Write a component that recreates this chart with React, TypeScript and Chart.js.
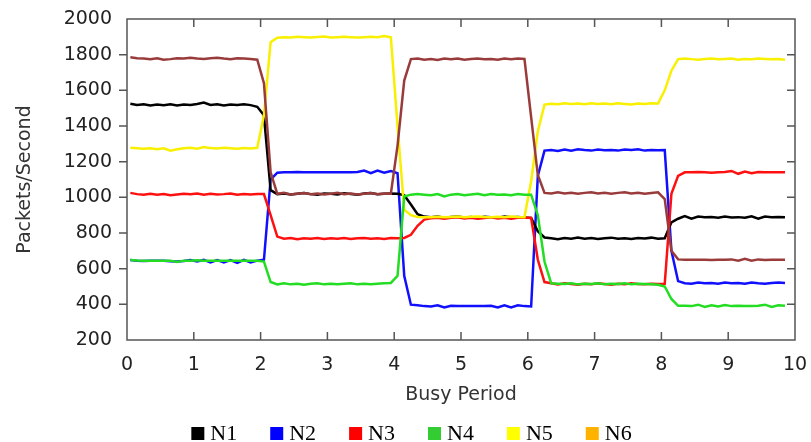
import React, { useEffect, useRef } from 'react';
import { Chart, registerables } from 'chart.js';

Chart.register(...registerables);

// Busy period sample positions (x axis)
const busyPeriod: number[] = Array.from({ length: 99 }, (_, i) => Math.round((0.05 + i * 0.1) * 100) / 100);

const seriesLabels = ['N1', 'N2', 'N3', 'N4', 'N5', 'N6'];

const n1 = [
  1525, 1518, 1522, 1515, 1520, 1517, 1522, 1515, 1520, 1518, 1523, 1532, 1518, 1522, 1515, 1520, 1518, 1522, 1517, 1508,
  1460, 1040, 1018,
  1022, 1016, 1020, 1024, 1018, 1015, 1022, 1020, 1016, 1023, 1019, 1015, 1021, 1024, 1018, 1020, 1022,
  1020, 1012, 960, 905, 892,
  888, 892, 885, 890, 893, 887, 889, 884, 891, 889, 886, 892, 888, 890, 887,
  885, 810, 775, 770,
  765, 772, 768, 774, 768, 772, 766, 771, 774, 768, 770, 766, 772, 769, 774, 768,
  770, 860, 880,
  895, 880, 892, 888, 890, 886, 893, 887, 889, 886, 894, 880, 892, 888, 890, 888,
];

const n2 = [
  648, 645, 643, 644, 645, 645, 642, 640, 643, 648, 640, 650, 635, 648, 635, 648, 632, 650, 635, 645,
  650, 1100, 1138,
  1140, 1140, 1142, 1140, 1140, 1140, 1141, 1140, 1140, 1140, 1140, 1142, 1150, 1135, 1150, 1138, 1148,
  1135, 560, 398, 395, 390,
  388, 395, 382, 392, 390, 390, 390, 390, 390, 392, 382, 395, 383, 395, 390,
  388, 1120, 1262, 1265,
  1260, 1268, 1262, 1270, 1265, 1262, 1268, 1264, 1266, 1262, 1268, 1265, 1270, 1262, 1266, 1264,
  1265, 700, 530,
  518, 515, 522, 518, 520, 516, 522, 518, 520, 516, 522, 518, 515, 520, 522, 520,
];

const n3 = [
  1025, 1018, 1015, 1020, 1014, 1018, 1012, 1016, 1020, 1018, 1022, 1015, 1020, 1016, 1018, 1022, 1015, 1018, 1016, 1018,
  1018, 900, 780,
  768, 772, 765, 770, 768, 772, 766, 770, 768, 772, 766, 770, 772, 768, 770, 766, 772,
  770, 772, 790, 840, 875,
  882, 886, 880, 885, 888, 882, 886, 880, 884, 888, 882, 886, 880, 885, 887,
  884, 650, 525, 518,
  512, 518, 514, 510, 516, 512, 518, 514, 510, 516, 512, 518, 514, 512, 516, 514,
  515, 1020, 1120,
  1140, 1140, 1142, 1140, 1138, 1140, 1142, 1148, 1132, 1145, 1135, 1142, 1140, 1140, 1140, 1140,
];

const n4 = [
  648, 646, 645, 645, 645, 645, 645, 638, 645, 645, 647, 645, 645, 645, 645, 645, 645, 645, 645, 645,
  640, 525, 512,
  518, 512, 516, 510, 515, 518, 512, 516, 512, 515, 518, 512, 516, 512, 515, 518, 520,
  560, 1005, 1015, 1018, 1015,
  1012, 1018, 1005, 1015, 1018, 1012, 1016, 1020, 1012, 1018, 1014, 1016, 1012, 1018, 1015,
  1015, 900, 640, 518,
  516, 514, 518, 512, 516, 514, 518, 512, 516, 514, 518, 512, 516, 514, 512, 510,
  500, 430, 392,
  392, 390, 398, 385, 395, 388, 396, 390, 392, 390, 390, 392, 398, 385, 395, 392,
];

const n5 = [
  1278, 1275, 1272, 1275, 1270, 1275, 1262, 1270, 1275, 1278, 1273, 1282, 1276, 1274, 1278, 1275, 1272, 1276, 1274, 1278,
  1460, 1870, 1895,
  1898, 1896, 1900, 1898, 1896, 1899, 1902, 1896, 1898, 1900, 1898, 1896, 1898, 1900, 1898, 1905, 1898,
  1400, 930, 900, 890, 888,
  889, 891, 888, 890, 892, 889, 891, 893, 890, 888, 891, 889, 892, 890, 889,
  1090, 1370, 1520, 1525,
  1522, 1528, 1524, 1526, 1522, 1528, 1524, 1526, 1522, 1528, 1524, 1520, 1526, 1524, 1528, 1526,
  1600, 1710, 1775,
  1778, 1775, 1772, 1776, 1778, 1774, 1776, 1778, 1772, 1776, 1774, 1778, 1776, 1774, 1776, 1772,
];

const n6 = [
  1785, 1780, 1778, 1775, 1780, 1772, 1775, 1780, 1778, 1782, 1778, 1776, 1780, 1782, 1778, 1775, 1780, 1778, 1776, 1772,
  1640, 1140, 1020,
  1025, 1016, 1020, 1024, 1018, 1022, 1016, 1020, 1025, 1018, 1022, 1016, 1020, 1024, 1018, 1022, 1020,
  1290, 1655, 1775, 1778, 1772,
  1776, 1770, 1778, 1774, 1778, 1772, 1776, 1778, 1774, 1776, 1772, 1778, 1775, 1778, 1776,
  1450, 1125, 1025, 1022,
  1028, 1022, 1026, 1020, 1025, 1028, 1022, 1026, 1020, 1025, 1028, 1022, 1026, 1020, 1024, 1028,
  990, 700, 652,
  650, 650, 650, 650, 648, 650, 650, 652, 645, 655, 645, 652, 648, 650, 650, 650,
];

const seriesValues = [n1, n2, n3, n4, n5, n6];
const lineColors = ['#000000', '#1010ff', '#ff1010', '#22dd22', '#f8f000', '#9a3b3b'];
const legendColors = ['#000000', '#0000ff', '#ff0000', '#33cc33', '#ffff00', '#ffb300'];
const drawOrder = [4, 5, 3, 1, 2, 0];

const xMin = 0;
const xMax = 10;
const yMin = 200;
const yMax = 2000;
const xTitle = 'Busy Period';
const yTitle = 'Packets/Second';

const framePlugin = {
  id: 'frameTicks',
  beforeDatasetsDraw(chart: any) {
    const { ctx, chartArea: a, scales } = chart;
    const x = scales.x;
    const y = scales.y;
    ctx.save();
    ctx.strokeStyle = '#555555';
    ctx.lineWidth = 1.5;
    ctx.strokeRect(a.left, a.top, a.right - a.left, a.bottom - a.top);
    ctx.beginPath();
    for (let v = xMin + 1; v < xMax; v++) {
      const px = x.getPixelForValue(v);
      ctx.moveTo(px, a.bottom);
      ctx.lineTo(px, a.bottom - 8);
      ctx.moveTo(px, a.top);
      ctx.lineTo(px, a.top + 8);
    }
    for (let v = yMin + 200; v < yMax; v += 200) {
      const py = y.getPixelForValue(v);
      ctx.moveTo(a.left - 8, py);
      ctx.lineTo(a.left, py);
      ctx.moveTo(a.right, py);
      ctx.lineTo(a.right - 8, py);
    }
    ctx.stroke();
    ctx.restore();
  },
  afterDraw(chart: any) {
    const { ctx } = chart;
    ctx.save();
    ctx.font = '22px "Liberation Serif", "Times New Roman", serif';
    ctx.textBaseline = 'alphabetic';
    ctx.textAlign = 'left';
    const box = 13;
    const gap = 6;
    const itemGap = 33;
    const widths = seriesLabels.map((l) => box + gap + ctx.measureText(l).width);
    const total = widths.reduce((s, w) => s + w, 0) + itemGap * (widths.length - 1);
    let xPos = chart.width / 2 + 6 - total / 2;
    const baseline = 440;
    seriesLabels.forEach((label, i) => {
      ctx.fillStyle = legendColors[i];
      ctx.fillRect(xPos, baseline - box, box, box);
      ctx.fillStyle = '#000000';
      ctx.fillText(label, xPos + box + gap, baseline);
      xPos += widths[i] + itemGap;
    });
    ctx.restore();
  },
};

function zeroPadding(scale: any) {
  scale.paddingLeft = 0;
  scale.paddingRight = 0;
  scale.paddingTop = 0;
  scale.paddingBottom = 0;
}

export default function App() {
  const canvasRef = useRef<HTMLCanvasElement | null>(null);

  useEffect(() => {
    document.body.style.margin = '0';
    const canvas = canvasRef.current;
    if (!canvas) return;
    const tickFont = { family: '"DejaVu Sans", sans-serif', size: 19 };
    const chart = new Chart(canvas, {
      type: 'line',
      data: {
        datasets: seriesValues.map((vals, i) => ({
          label: seriesLabels[i],
          data: vals.map((v, k) => ({ x: busyPeriod[k], y: v })),
          borderColor: lineColors[i],
          backgroundColor: legendColors[i],
          borderWidth: 2.5,
          pointRadius: 0,
          tension: 0,
          fill: false,
          order: drawOrder[i],
        })),
      },
      options: {
        responsive: false,
        animation: false,
        devicePixelRatio: 1,
        layout: { padding: { left: 0, right: 16, top: 19, bottom: 0 } },
        plugins: {
          legend: { display: false },
          tooltip: { enabled: false },
        },
        scales: {
          x: {
            type: 'linear',
            min: xMin,
            max: xMax,
            grid: { display: false, drawTicks: false },
            border: { display: false },
            ticks: {
              stepSize: 1,
              font: tickFont,
              color: '#222222',
              padding: 14,
              callback: (v: any) => String(v),
            },
            title: {
              display: true,
              text: xTitle,
              font: tickFont,
              color: '#333333',
              padding: { top: 0, bottom: 35.6 },
            },
            afterFit: (scale: any) => {
              scale.height = 102;
              zeroPadding(scale);
            },
          },
          y: {
            type: 'linear',
            min: yMin,
            max: yMax,
            grid: { display: false, drawTicks: false },
            border: { display: false },
            ticks: {
              stepSize: 200,
              font: tickFont,
              color: '#222222',
              padding: 15,
              callback: (v: any) => String(v),
            },
            title: {
              display: true,
              text: yTitle,
              font: tickFont,
              color: '#333333',
              padding: { top: 13.6, bottom: 0 },
            },
            afterFit: (scale: any) => {
              scale.width = 127;
              zeroPadding(scale);
            },
          },
        },
      },
      plugins: [framePlugin],
    } as any);
    return () => chart.destroy();
  }, []);

  return (
    <div style={{ width: 811, height: 442, background: '#ffffff' }}>
      <canvas ref={canvasRef} width={811} height={442} style={{ display: 'block' }} />
    </div>
  );
}
